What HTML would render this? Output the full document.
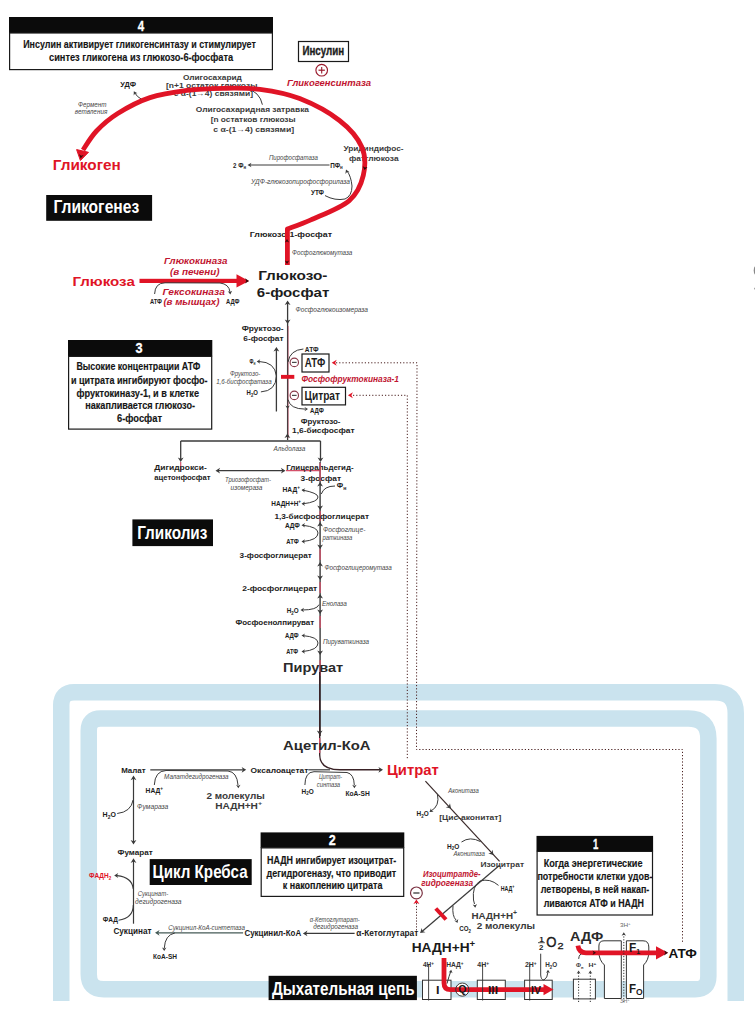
<!DOCTYPE html>
<html><head><meta charset="utf-8"><title>Glycogenesis, glycolysis, Krebs</title>
<style>html,body{margin:0;padding:0;background:#fff;}svg{display:block;}
text{font-family:"Liberation Sans",sans-serif;}</style></head>
<body>
<svg width="755" height="1023" viewBox="0 0 755 1023">
<rect width="755" height="1023" fill="#ffffff"/>
<path d="M61.25,1001 L61.25,705.25 Q61.25,692.25 74.25,692.25 L714.75,692.25 Q735.75,692.25 735.75,713.25 L735.75,1001" stroke="#cae3ee" stroke-width="16.5" fill="none"/>
<path d="M100.75,718.55 L688.35,718.55 Q708.35,718.55 708.35,738.55 L708.35,976.25 Q708.35,989.25 695.35,989.25 L103.75,989.25 Q88.75,989.25 88.75,974.25 L88.75,730.55 Q88.75,718.55 100.75,718.55 Z" stroke="#cae3ee" stroke-width="16.5" fill="none"/>
<ellipse cx="756" cy="270.5" rx="2.3" ry="4.6" fill="#888"/>
<ellipse cx="756" cy="288.6" rx="1.8" ry="1.3" fill="#888"/>
<rect x="9" y="17" width="264" height="16" fill="#0b0b0b"/>
<rect x="9.6" y="33" width="262.8" height="36.6" fill="#fff" stroke="#1a1a1a" stroke-width="1.2"/>
<text x="137.8" y="31.0" textLength="6.4" lengthAdjust="spacingAndGlyphs" font-family="Liberation Sans" font-size="15.5" font-weight="bold" font-style="normal" fill="#fff" stroke="#fff" stroke-width="0.3">4</text>
<text x="23.2" y="48.2" textLength="232.6" lengthAdjust="spacingAndGlyphs" font-family="Liberation Sans" font-size="11.2" font-weight="bold" font-style="normal" fill="#151515" stroke="#151515" stroke-width="0.15">Инсулин активирует гликогенсинтазу и стимулирует</text>
<text x="49.0" y="61.2" textLength="184.2" lengthAdjust="spacingAndGlyphs" font-family="Liberation Sans" font-size="11.2" font-weight="bold" font-style="normal" fill="#151515" stroke="#151515" stroke-width="0.15">синтез гликогена из глюкозо-6-фосфата</text>
<rect x="298.5" y="41.5" width="50" height="20" fill="#fff" stroke="#1a1a1a" stroke-width="1.2"/>
<text x="302.4" y="55.0" textLength="41.8" lengthAdjust="spacingAndGlyphs" font-family="Liberation Sans" font-size="12" font-weight="bold" font-style="normal" fill="#1c1c1c" stroke="#1c1c1c" stroke-width="0.35">Инсулин</text>
<circle cx="321.7" cy="70.2" r="5.8" fill="#fff" stroke="#9a1a2c" stroke-width="1.15"/>
<line x1="318.51" y1="70.2" x2="324.89" y2="70.2" stroke="#9a1a2c" stroke-width="1.2"/>
<line x1="321.7" y1="67.01" x2="321.7" y2="73.39" stroke="#9a1a2c" stroke-width="1.1"/>
<text x="287.0" y="86.2" textLength="84.0" lengthAdjust="spacingAndGlyphs" font-family="Liberation Sans" font-size="9.6" font-weight="bold" font-style="italic" fill="#bf1531" >Гликогенсинтаза</text>
<text x="120.3" y="87.4" textLength="15.7" lengthAdjust="spacingAndGlyphs" font-family="Liberation Sans" font-size="6.7" font-weight="bold" font-style="normal" fill="#1c1c1c" >УДФ</text>
<path d="M141.6,99.3 Q137,97 134.5,92.5" stroke="#3a3a3a" stroke-width="1" fill="none" />
<path d="M133.80,91.30 L137.49,93.17 L135.06,93.40 L133.71,95.43 Z" fill="#3a3a3a"/>
<text x="78.0" y="106.7" textLength="28.4" lengthAdjust="spacingAndGlyphs" font-family="Liberation Sans" font-size="6.6" font-weight="normal" font-style="italic" fill="#474747" >Фермент</text>
<text x="74.8" y="113.8" textLength="32.5" lengthAdjust="spacingAndGlyphs" font-family="Liberation Sans" font-size="6.6" font-weight="normal" font-style="italic" fill="#474747" >ветвления</text>
<text x="182.9" y="79.8" textLength="59.0" lengthAdjust="spacingAndGlyphs" font-family="Liberation Sans" font-size="7.9" font-weight="bold" font-style="normal" fill="#3a3a3a" >Олигосахарид</text>
<text x="166.0" y="87.5" textLength="91.4" lengthAdjust="spacingAndGlyphs" font-family="Liberation Sans" font-size="7.9" font-weight="bold" font-style="normal" fill="#3a3a3a" >[n+1 остаток глюкозы</text>
<text x="173.7" y="96.0" textLength="79.3" lengthAdjust="spacingAndGlyphs" font-family="Liberation Sans" font-size="7.9" font-weight="bold" font-style="normal" fill="#3a3a3a" >с α-(1→4) связями]</text>
<text x="195.8" y="112.1" textLength="113.2" lengthAdjust="spacingAndGlyphs" font-family="Liberation Sans" font-size="7.9" font-weight="bold" font-style="normal" fill="#3a3a3a" >Олигосахаридная затравка</text>
<text x="210.7" y="122.0" textLength="84.9" lengthAdjust="spacingAndGlyphs" font-family="Liberation Sans" font-size="7.9" font-weight="bold" font-style="normal" fill="#3a3a3a" >[n остатков глюкозы</text>
<text x="213.3" y="131.9" textLength="80.9" lengthAdjust="spacingAndGlyphs" font-family="Liberation Sans" font-size="7.9" font-weight="bold" font-style="normal" fill="#3a3a3a" >с α-(1→4) связями]</text>
<path d="M262.4,104.7 Q260,92 246,88" stroke="#3a3a3a" stroke-width="1" fill="none" />
<text x="343.4" y="151.2" textLength="60.1" lengthAdjust="spacingAndGlyphs" font-family="Liberation Sans" font-size="8.0" font-weight="bold" font-style="normal" fill="#3a3a3a" >Уридиндифос-</text>
<text x="348.9" y="160.7" textLength="49.7" lengthAdjust="spacingAndGlyphs" font-family="Liberation Sans" font-size="8.0" font-weight="bold" font-style="normal" fill="#3a3a3a" >фатглюкоза</text>
<text x="268.9" y="160.3" textLength="48.9" lengthAdjust="spacingAndGlyphs" font-family="Liberation Sans" font-size="6.6" font-weight="normal" font-style="italic" fill="#474747" >Пирофосфатаза</text>
<line x1="329.5" y1="165" x2="250" y2="165" stroke="#3a3a3a" stroke-width="1" />
<path d="M247.50,165.00 L251.50,162.70 L250.30,165.00 L251.50,167.30 Z" fill="#3a3a3a"/>
<text x="233.0" y="167.9" textLength="13.0" lengthAdjust="spacingAndGlyphs" font-family="Liberation Sans" font-size="6.7" font-weight="bold" font-style="normal" fill="#1c1c1c" >2 Ф<tspan font-size="70%" dy="1.5">н</tspan></text>
<text x="330.2" y="167.9" textLength="12.6" lengthAdjust="spacingAndGlyphs" font-family="Liberation Sans" font-size="6.7" font-weight="bold" font-style="normal" fill="#1c1c1c" >ПФ<tspan font-size="70%" dy="1.5">н</tspan></text>
<text x="251.0" y="184.4" textLength="99.0" lengthAdjust="spacingAndGlyphs" font-family="Liberation Sans" font-size="6.6" font-weight="normal" font-style="italic" fill="#474747" >УДФ-глюкозопирофосфорилаза</text>
<text x="311.0" y="195.2" textLength="13.0" lengthAdjust="spacingAndGlyphs" font-family="Liberation Sans" font-size="6.7" font-weight="bold" font-style="normal" fill="#1c1c1c" >УТФ</text>
<path d="M325,195.6 Q335,201 345,199 Q352,196 352,186 Q351,176 347,171" stroke="#3a3a3a" stroke-width="1" fill="none" />
<path d="M346.00,169.50 L349.62,172.36 L347.04,172.10 L345.35,174.07 Z" fill="#3a3a3a"/>
<text x="249.8" y="236.5" textLength="82.2" lengthAdjust="spacingAndGlyphs" font-family="Liberation Sans" font-size="8.0" font-weight="bold" font-style="normal" fill="#1c1c1c" >Глюкозо-1-фосфат</text>
<text x="292.0" y="254.8" textLength="60.3" lengthAdjust="spacingAndGlyphs" font-family="Liberation Sans" font-size="6.6" font-weight="normal" font-style="italic" fill="#474747" >Фосфоглюкомутаза</text>
<path d="M287.4,265 L287.4,229  C291.3,227.5 300.6,224.6 310.9,219.9 C321.2,215.2 340.3,208.2 349,200.8 C357.7,193.4 361.2,184.4 363.3,175.4 C365.4,166.4 365.7,156.0 361.7,146.8 C357.7,137.7 349.8,128.5 339.5,120.5 C329.2,112.5 312.9,103.8 299.7,98.6 C286.4,93.4 272.8,91.1 260,89.4 C247.2,87.7 235.2,88.1 223,88.3 C210.8,88.5 199.2,88.9 187,90.4 C174.8,92.0 161.6,93.8 150,97.6 C138.4,101.4 126.6,107.9 117.7,113.5 C108.8,119.1 102.3,124.9 96.5,131 C90.7,137.1 85.2,146.8 83,150" stroke="#e01426" stroke-width="4.8" fill="none" stroke-linejoin="round"/>
<path d="M76.6,149.6 L88.5,152.3 L80.4,160.5 Z" fill="#e01426" stroke="#e01426" stroke-width="1" stroke-linejoin="round"/>
<path d="M80.60,158.50 L79.03,154.11 L81.15,155.75 L83.74,155.05 Z" fill="#3a0a0a"/>
<path d="M287.00,239.00 L289.20,242.50 L287.00,241.45 L284.80,242.50 Z" fill="#3a0a0a"/>
<path d="M287.00,264.00 L284.80,260.50 L287.00,261.55 L289.20,260.50 Z" fill="#3a0a0a"/>
<path d="M364.60,170.00 L362.75,166.18 L364.96,167.58 L367.49,166.89 Z" fill="#2a0505"/>
<rect x="46.2" y="195" width="105.89999999999999" height="25.80000000000001" fill="#0b0b0b"/>
<text x="53.4" y="213.4" textLength="85.8" lengthAdjust="spacingAndGlyphs" font-family="Liberation Sans" font-size="18.3" font-weight="bold" font-style="normal" fill="#ffffff" >Гликогенез</text>
<text x="52.8" y="170.3" textLength="68.0" lengthAdjust="spacingAndGlyphs" font-family="Liberation Sans" font-size="14" font-weight="bold" font-style="normal" fill="#e01426" >Гликоген</text>
<text x="72.5" y="285.6" textLength="62.3" lengthAdjust="spacingAndGlyphs" font-family="Liberation Sans" font-size="13.5" font-weight="bold" font-style="normal" fill="#e01426" >Глюкоза</text>
<rect x="139.5" y="278.8" width="99" height="4.2" fill="#e01426"/>
<path d="M236.5,274.3 L249,280.9 L236.5,287.5 Z" fill="#e01426"/>
<path d="M249.00,280.90 L245.00,283.50 L246.20,280.90 L245.00,278.30 Z" fill="#3a0a0a"/>
<text x="164.0" y="264.1" textLength="63.5" lengthAdjust="spacingAndGlyphs" font-family="Liberation Sans" font-size="8.7" font-weight="bold" font-style="italic" fill="#bf1531" >Глюкокиназа</text>
<text x="170.0" y="275.4" textLength="49.5" lengthAdjust="spacingAndGlyphs" font-family="Liberation Sans" font-size="8.7" font-weight="bold" font-style="italic" fill="#bf1531" >(в печени)</text>
<text x="162.6" y="294.5" textLength="62.2" lengthAdjust="spacingAndGlyphs" font-family="Liberation Sans" font-size="8.7" font-weight="bold" font-style="italic" fill="#bf1531" >Гексокиназа</text>
<text x="163.4" y="305.1" textLength="56.1" lengthAdjust="spacingAndGlyphs" font-family="Liberation Sans" font-size="8.7" font-weight="bold" font-style="italic" fill="#bf1531" >(в мышцах)</text>
<text x="149.9" y="304.1" textLength="12.0" lengthAdjust="spacingAndGlyphs" font-family="Liberation Sans" font-size="7" font-weight="bold" font-style="normal" fill="#1c1c1c" >АТФ</text>
<text x="226.0" y="304.1" textLength="13.4" lengthAdjust="spacingAndGlyphs" font-family="Liberation Sans" font-size="7" font-weight="bold" font-style="normal" fill="#1c1c1c" >АДФ</text>
<path d="M154.6,294 Q155,283 165,282.8 L220,283 Q229,284 230,292" stroke="#3a3a3a" stroke-width="1" fill="none" />
<path d="M230.30,294.50 L227.76,291.24 L230.06,292.06 L232.14,290.80 Z" fill="#3a3a3a"/>
<text x="258.2" y="280.4" textLength="69.2" lengthAdjust="spacingAndGlyphs" font-family="Liberation Sans" font-size="13.2" font-weight="bold" font-style="normal" fill="#1c1c1c" >Глюкозо-</text>
<text x="256.8" y="297.0" textLength="72.5" lengthAdjust="spacingAndGlyphs" font-family="Liberation Sans" font-size="13.2" font-weight="bold" font-style="normal" fill="#1c1c1c" >6-фосфат</text>
<text x="295.6" y="312.0" textLength="72.4" lengthAdjust="spacingAndGlyphs" font-family="Liberation Sans" font-size="6.6" font-weight="normal" font-style="italic" fill="#474747" >Фосфоглюкоизомераза</text>
<line x1="287.6" y1="302" x2="287.6" y2="440" stroke="#3a3a3a" stroke-width="1.3" />
<path d="M287.60,300.50 L290.50,305.10 L287.60,303.72 L284.70,305.10 Z" fill="#3a3a3a"/>
<path d="M287.60,324.00 L284.70,319.40 L287.60,320.78 L290.50,319.40 Z" fill="#3a3a3a"/>
<text x="241.7" y="331.1" textLength="41.9" lengthAdjust="spacingAndGlyphs" font-family="Liberation Sans" font-size="8.0" font-weight="bold" font-style="normal" fill="#1c1c1c" >Фруктозо-</text>
<text x="243.3" y="341.2" textLength="40.3" lengthAdjust="spacingAndGlyphs" font-family="Liberation Sans" font-size="8.0" font-weight="bold" font-style="normal" fill="#1c1c1c" >6-фосфат</text>
<line x1="288.3" y1="326" x2="288.3" y2="438" stroke="#c05068" stroke-width="0.6" />
<line x1="276.4" y1="350" x2="276.4" y2="411.5" stroke="#3a3a3a" stroke-width="1.3" />
<path d="M276.40,347.00 L279.30,351.60 L276.40,350.22 L273.50,351.60 Z" fill="#3a3a3a"/>
<text x="304.8" y="351.8" textLength="13.7" lengthAdjust="spacingAndGlyphs" font-family="Liberation Sans" font-size="6.7" font-weight="bold" font-style="normal" fill="#1c1c1c" >АТФ</text>
<path d="M303.4,349 Q290,350 288,362" stroke="#3a3a3a" stroke-width="1" fill="none" />
<path d="M288,399.6 Q290,409 305,409.1" stroke="#3a3a3a" stroke-width="1" fill="none" />
<path d="M308.00,409.10 L304.50,411.30 L305.55,409.10 L304.50,406.90 Z" fill="#3a3a3a"/>
<text x="310.0" y="412.9" textLength="13.8" lengthAdjust="spacingAndGlyphs" font-family="Liberation Sans" font-size="6.7" font-weight="bold" font-style="normal" fill="#1c1c1c" >АДФ</text>
<path d="M287.60,409.00 L285.40,405.50 L287.60,406.55 L289.80,405.50 Z" fill="#3a3a3a"/>
<rect x="281" y="374.9" width="13.3" height="3.9" fill="#e01426"/>
<circle cx="294.3" cy="362.4" r="4.2" fill="#fff" stroke="#8a3a4a" stroke-width="1.15"/>
<line x1="291.99" y1="362.4" x2="296.61" y2="362.4" stroke="#4a4a4a" stroke-width="1.2"/>
<circle cx="294.3" cy="395.4" r="4.2" fill="#fff" stroke="#8a3a4a" stroke-width="1.15"/>
<line x1="291.99" y1="395.4" x2="296.61" y2="395.4" stroke="#4a4a4a" stroke-width="1.2"/>
<rect x="302" y="354" width="27" height="18" fill="#fff" stroke="#1a1a1a" stroke-width="1.2"/>
<text x="304.8" y="367.4" textLength="20.4" lengthAdjust="spacingAndGlyphs" font-family="Liberation Sans" font-size="12.3" font-weight="bold" font-style="normal" fill="#1c1c1c" >АТФ</text>
<rect x="302" y="387.3" width="43.5" height="17.6" fill="#fff" stroke="#1a1a1a" stroke-width="1.2"/>
<text x="304.5" y="400.3" textLength="35.5" lengthAdjust="spacingAndGlyphs" font-family="Liberation Sans" font-size="12.3" font-weight="bold" font-style="normal" fill="#1c1c1c" >Цитрат</text>
<text x="301.5" y="382.4" textLength="97.5" lengthAdjust="spacingAndGlyphs" font-family="Liberation Sans" font-size="8.7" font-weight="bold" font-style="italic" fill="#bf1531" >Фосфофруктокиназа-1</text>
<path d="M336,362.8 L417,362.8 L416.5,749.5 L682.5,749.5 L682.5,942.5" stroke="#4a2020" stroke-width="1" stroke-dasharray="1.2,2" fill="none"/>
<path d="M353,395.3 L407.3,395.3 L407.3,760" stroke="#4a2020" stroke-width="1" stroke-dasharray="1.2,2" fill="none"/>
<path d="M331.70,362.80 L336.70,359.80 L335.20,362.80 L336.70,365.80 Z" fill="#e01426"/>
<path d="M347.90,395.30 L352.90,392.30 L351.40,395.30 L352.90,398.30 Z" fill="#e01426"/>
<text x="249.6" y="363.9" textLength="5.9" lengthAdjust="spacingAndGlyphs" font-family="Liberation Sans" font-size="6.7" font-weight="bold" font-style="normal" fill="#1c1c1c" >Ф<tspan font-size="70%" dy="1.5">н</tspan></text>
<path d="M260.9,391.9 Q276,391 276.4,376 Q275,362 259,361.5" stroke="#3a3a3a" stroke-width="1" fill="none" />
<path d="M256.70,361.50 L260.20,359.30 L259.15,361.50 L260.20,363.70 Z" fill="#3a3a3a"/>
<text x="229.9" y="375.8" textLength="30.4" lengthAdjust="spacingAndGlyphs" font-family="Liberation Sans" font-size="6.6" font-weight="normal" font-style="italic" fill="#474747" >Фруктозо-</text>
<text x="216.2" y="383.5" textLength="55.4" lengthAdjust="spacingAndGlyphs" font-family="Liberation Sans" font-size="6.6" font-weight="normal" font-style="italic" fill="#474747" >1,6-бисфосфатаза</text>
<text x="246.6" y="395.0" textLength="11.3" lengthAdjust="spacingAndGlyphs" font-family="Liberation Sans" font-size="6.7" font-weight="bold" font-style="normal" fill="#1c1c1c" >Н<tspan font-size="70%" dy="1.5">2</tspan><tspan dy="-1.5">О</tspan></text>
<rect x="68" y="340" width="144.3" height="16.399999999999977" fill="#0b0b0b"/>
<rect x="68.6" y="356.4" width="143.10000000000002" height="72.70000000000002" fill="#fff" stroke="#1a1a1a" stroke-width="1.2"/>
<text x="135.5" y="353.2" textLength="7.1" lengthAdjust="spacingAndGlyphs" font-family="Liberation Sans" font-size="15" font-weight="bold" font-style="normal" fill="#fff" stroke="#fff" stroke-width="0.3">3</text>
<text x="76.4" y="370.2" textLength="124.0" lengthAdjust="spacingAndGlyphs" font-family="Liberation Sans" font-size="10.6" font-weight="bold" font-style="normal" fill="#151515" stroke="#151515" stroke-width="0.15">Высокие концентрации АТФ</text>
<text x="71.0" y="383.6" textLength="136.5" lengthAdjust="spacingAndGlyphs" font-family="Liberation Sans" font-size="10.6" font-weight="bold" font-style="normal" fill="#151515" stroke="#151515" stroke-width="0.15">и цитрата ингибируют фосфо-</text>
<text x="76.4" y="396.6" textLength="122.6" lengthAdjust="spacingAndGlyphs" font-family="Liberation Sans" font-size="10.6" font-weight="bold" font-style="normal" fill="#151515" stroke="#151515" stroke-width="0.15">фруктокиназу-1, и в клетке</text>
<text x="85.2" y="409.4" textLength="109.8" lengthAdjust="spacingAndGlyphs" font-family="Liberation Sans" font-size="10.6" font-weight="bold" font-style="normal" fill="#151515" stroke="#151515" stroke-width="0.15">накапливается глюкозо-</text>
<text x="117.0" y="422.2" textLength="45.0" lengthAdjust="spacingAndGlyphs" font-family="Liberation Sans" font-size="10.6" font-weight="bold" font-style="normal" fill="#151515" stroke="#151515" stroke-width="0.15">6-фосфат</text>
<text x="300.8" y="423.9" textLength="39.7" lengthAdjust="spacingAndGlyphs" font-family="Liberation Sans" font-size="8.0" font-weight="bold" font-style="normal" fill="#1c1c1c" >Фруктозо-</text>
<text x="292.0" y="433.3" textLength="62.6" lengthAdjust="spacingAndGlyphs" font-family="Liberation Sans" font-size="8.0" font-weight="bold" font-style="normal" fill="#1c1c1c" >1,6-бисфосфат</text>
<path d="M287.40,433.50 L290.30,438.10 L287.40,436.72 L284.50,438.10 Z" fill="#3a3a3a"/>
<line x1="180.7" y1="441" x2="320.5" y2="441" stroke="#3a3a3a" stroke-width="1.3" />
<line x1="180.7" y1="441" x2="180.7" y2="460" stroke="#3a3a3a" stroke-width="1.3" />
<line x1="320.5" y1="441" x2="320.5" y2="460" stroke="#3a3a3a" stroke-width="1.3" />
<line x1="180.7" y1="462" x2="180.7" y2="470.6" stroke="#d4506a" stroke-width="1.2" />
<line x1="286" y1="470.6" x2="320.5" y2="470.6" stroke="#d4506a" stroke-width="1.1" />
<path d="M180.70,462.00 L177.80,457.40 L180.70,458.78 L183.60,457.40 Z" fill="#3a3a3a"/>
<path d="M320.50,462.00 L317.60,457.40 L320.50,458.78 L323.40,457.40 Z" fill="#3a3a3a"/>
<text x="273.5" y="450.8" textLength="31.8" lengthAdjust="spacingAndGlyphs" font-family="Liberation Sans" font-size="6.6" font-weight="normal" font-style="italic" fill="#474747" >Альдолаза</text>
<text x="154.3" y="470.4" textLength="52.5" lengthAdjust="spacingAndGlyphs" font-family="Liberation Sans" font-size="8.0" font-weight="bold" font-style="normal" fill="#1c1c1c" >Дигидрокси-</text>
<text x="154.3" y="479.9" textLength="56.3" lengthAdjust="spacingAndGlyphs" font-family="Liberation Sans" font-size="8.0" font-weight="bold" font-style="normal" fill="#1c1c1c" >ацетонфосфат</text>
<text x="286.2" y="470.4" textLength="67.4" lengthAdjust="spacingAndGlyphs" font-family="Liberation Sans" font-size="8.0" font-weight="bold" font-style="normal" fill="#1c1c1c" >Глицеральдегид-</text>
<text x="300.5" y="480.6" textLength="40.5" lengthAdjust="spacingAndGlyphs" font-family="Liberation Sans" font-size="8.0" font-weight="bold" font-style="normal" fill="#1c1c1c" >3-фосфат</text>
<line x1="218" y1="470.7" x2="283" y2="470.7" stroke="#3a3a3a" stroke-width="1.3" />
<path d="M215.50,470.70 L220.10,467.80 L218.72,470.70 L220.10,473.60 Z" fill="#3a3a3a"/>
<path d="M285.50,470.70 L280.90,473.60 L282.28,470.70 L280.90,467.80 Z" fill="#3a3a3a"/>
<text x="225.0" y="482.4" textLength="46.0" lengthAdjust="spacingAndGlyphs" font-family="Liberation Sans" font-size="6.6" font-weight="normal" font-style="italic" fill="#474747" >Триозофосфат-</text>
<text x="230.6" y="490.3" textLength="31.8" lengthAdjust="spacingAndGlyphs" font-family="Liberation Sans" font-size="6.6" font-weight="normal" font-style="italic" fill="#474747" >изомераза</text>
<line x1="320.1" y1="462" x2="320.1" y2="736" stroke="#3a3a3a" stroke-width="1.4" />
<line x1="320.1" y1="463" x2="320.1" y2="481" stroke="#d4506a" stroke-width="1.3" />
<line x1="320.1" y1="511" x2="320.1" y2="521" stroke="#d4506a" stroke-width="1.3" />
<line x1="320.1" y1="549" x2="320.1" y2="560" stroke="#d4506a" stroke-width="1.3" />
<line x1="320.1" y1="582" x2="320.1" y2="593" stroke="#d4506a" stroke-width="1.3" />
<line x1="320.1" y1="616" x2="320.1" y2="628" stroke="#d4506a" stroke-width="1.3" />
<line x1="320.1" y1="660" x2="320.1" y2="676" stroke="#d4506a" stroke-width="1.3" />
<path d="M320.10,482.00 L323.00,486.60 L320.10,485.22 L317.20,486.60 Z" fill="#3a3a3a"/>
<path d="M320.10,510.00 L317.20,505.40 L320.10,506.78 L323.00,505.40 Z" fill="#3a3a3a"/>
<path d="M320.10,522.00 L323.00,526.60 L320.10,525.22 L317.20,526.60 Z" fill="#3a3a3a"/>
<path d="M320.10,549.00 L317.20,544.40 L320.10,545.78 L323.00,544.40 Z" fill="#3a3a3a"/>
<path d="M320.10,562.00 L323.00,566.60 L320.10,565.22 L317.20,566.60 Z" fill="#3a3a3a"/>
<path d="M320.10,580.00 L317.20,575.40 L320.10,576.78 L323.00,575.40 Z" fill="#3a3a3a"/>
<path d="M320.10,594.00 L323.00,598.60 L320.10,597.22 L317.20,598.60 Z" fill="#3a3a3a"/>
<path d="M320.10,614.00 L317.20,609.40 L320.10,610.78 L323.00,609.40 Z" fill="#3a3a3a"/>
<path d="M320.10,655.00 L317.20,650.40 L320.10,651.78 L323.00,650.40 Z" fill="#3a3a3a"/>
<text x="282.5" y="492.4" textLength="17.4" lengthAdjust="spacingAndGlyphs" font-family="Liberation Sans" font-size="6.7" font-weight="bold" font-style="normal" fill="#1c1c1c" >НАД<tspan font-size="70%" dy="-3">+</tspan></text>
<path d="M302.3,490 Q318,493 318,497 Q318,502 303,503.8" stroke="#3a3a3a" stroke-width="1" fill="none" />
<path d="M301.50,503.80 L305.00,501.60 L303.95,503.80 L305.00,506.00 Z" fill="#3a3a3a"/>
<path d="M301.50,490.00 L305.20,488.16 L303.94,490.24 L304.76,492.54 Z" fill="#3a3a3a"/>
<text x="271.3" y="506.2" textLength="29.7" lengthAdjust="spacingAndGlyphs" font-family="Liberation Sans" font-size="6.7" font-weight="bold" font-style="normal" fill="#1c1c1c" >НАДН+Н<tspan font-size="70%" dy="-3">+</tspan></text>
<text x="336.8" y="488.4" textLength="9.6" lengthAdjust="spacingAndGlyphs" font-family="Liberation Sans" font-size="6.7" font-weight="bold" font-style="normal" fill="#1c1c1c" >Ф<tspan font-size="70%" dy="1.5">н</tspan></text>
<path d="M335,486 Q324,486 321.3,494" stroke="#3a3a3a" stroke-width="1" fill="none" />
<text x="274.4" y="519.1" textLength="94.6" lengthAdjust="spacingAndGlyphs" font-family="Liberation Sans" font-size="8.0" font-weight="bold" font-style="normal" fill="#1c1c1c" >1,3-бисфосфоглицерат</text>
<text x="284.9" y="527.7" textLength="15.0" lengthAdjust="spacingAndGlyphs" font-family="Liberation Sans" font-size="6.7" font-weight="bold" font-style="normal" fill="#1c1c1c" >АДФ</text>
<text x="286.3" y="543.9" textLength="12.4" lengthAdjust="spacingAndGlyphs" font-family="Liberation Sans" font-size="6.7" font-weight="bold" font-style="normal" fill="#1c1c1c" >АТФ</text>
<path d="M303,525.3 Q318,527 318,533 Q318,540 303,541.5" stroke="#3a3a3a" stroke-width="1" fill="none" />
<path d="M301.50,525.30 L305.00,523.10 L303.95,525.30 L305.00,527.50 Z" fill="#3a3a3a"/>
<path d="M301.50,541.50 L305.00,539.30 L303.95,541.50 L305.00,543.70 Z" fill="#3a3a3a"/>
<text x="323.0" y="532.0" textLength="42.4" lengthAdjust="spacingAndGlyphs" font-family="Liberation Sans" font-size="6.6" font-weight="normal" font-style="italic" fill="#474747" >Фосфоглице-</text>
<text x="322.5" y="539.6" textLength="29.8" lengthAdjust="spacingAndGlyphs" font-family="Liberation Sans" font-size="6.6" font-weight="normal" font-style="italic" fill="#474747" >раткиназа</text>
<text x="239.6" y="558.0" textLength="72.2" lengthAdjust="spacingAndGlyphs" font-family="Liberation Sans" font-size="8.0" font-weight="bold" font-style="normal" fill="#1c1c1c" >3-фосфоглицерат</text>
<text x="324.4" y="570.1" textLength="67.3" lengthAdjust="spacingAndGlyphs" font-family="Liberation Sans" font-size="6.6" font-weight="normal" font-style="italic" fill="#474747" >Фосфоглицеромутаза</text>
<text x="242.2" y="590.8" textLength="75.1" lengthAdjust="spacingAndGlyphs" font-family="Liberation Sans" font-size="8.0" font-weight="bold" font-style="normal" fill="#1c1c1c" >2-фосфоглицерат</text>
<text x="322.0" y="605.8" textLength="24.8" lengthAdjust="spacingAndGlyphs" font-family="Liberation Sans" font-size="6.6" font-weight="normal" font-style="italic" fill="#474747" >Енолаза</text>
<text x="286.8" y="613.4" textLength="11.9" lengthAdjust="spacingAndGlyphs" font-family="Liberation Sans" font-size="6.7" font-weight="bold" font-style="normal" fill="#1c1c1c" >Н<tspan font-size="70%" dy="1.5">2</tspan><tspan dy="-1.5">О</tspan></text>
<path d="M319,604.6 Q317,610 302,610" stroke="#3a3a3a" stroke-width="1" fill="none" />
<path d="M300.50,610.00 L304.00,607.80 L302.95,610.00 L304.00,612.20 Z" fill="#3a3a3a"/>
<text x="235.5" y="625.4" textLength="78.7" lengthAdjust="spacingAndGlyphs" font-family="Liberation Sans" font-size="8.0" font-weight="bold" font-style="normal" fill="#1c1c1c" >Фосфоенолпируват</text>
<text x="284.9" y="638.0" textLength="13.8" lengthAdjust="spacingAndGlyphs" font-family="Liberation Sans" font-size="6.7" font-weight="bold" font-style="normal" fill="#1c1c1c" >АДФ</text>
<text x="286.3" y="653.9" textLength="11.9" lengthAdjust="spacingAndGlyphs" font-family="Liberation Sans" font-size="6.7" font-weight="bold" font-style="normal" fill="#1c1c1c" >АТФ</text>
<path d="M303,635.6 Q318,637 318,643 Q318,650 303,651.5" stroke="#3a3a3a" stroke-width="1" fill="none" />
<path d="M301.50,635.60 L305.00,633.40 L303.95,635.60 L305.00,637.80 Z" fill="#3a3a3a"/>
<path d="M301.50,651.50 L305.00,649.30 L303.95,651.50 L305.00,653.70 Z" fill="#3a3a3a"/>
<text x="323.0" y="643.9" textLength="46.0" lengthAdjust="spacingAndGlyphs" font-family="Liberation Sans" font-size="6.6" font-weight="normal" font-style="italic" fill="#474747" >Пируваткиназа</text>
<text x="283.1" y="672.3" textLength="60.1" lengthAdjust="spacingAndGlyphs" font-family="Liberation Sans" font-size="13.5" font-weight="bold" font-style="normal" fill="#2a2a2a" >Пируват</text>
<rect x="132.4" y="519.4" width="80.6" height="26.700000000000045" fill="#0b0b0b"/>
<text x="137.2" y="538.6" textLength="70.2" lengthAdjust="spacingAndGlyphs" font-family="Liberation Sans" font-size="19" font-weight="bold" font-style="normal" fill="#ffffff" >Гликолиз</text>
<line x1="319.7" y1="672" x2="319.7" y2="733" stroke="#3a2226" stroke-width="1.4" />
<path d="M319.70,735.00 L316.80,730.40 L319.70,731.78 L322.60,730.40 Z" fill="#3a3a3a"/>
<path d="M319.7,733 L319.7,755 Q320,769.8 340,769.8 L381,769.8" stroke="#3a2226" stroke-width="1.4" fill="none" />
<line x1="319.7" y1="738" x2="319.7" y2="753" stroke="#d4506a" stroke-width="1.3" />
<path d="M383.00,769.80 L378.40,772.70 L379.78,769.80 L378.40,766.90 Z" fill="#3a3a3a"/>
<text x="283.1" y="750.2" textLength="87.4" lengthAdjust="spacingAndGlyphs" font-family="Liberation Sans" font-size="13.2" font-weight="bold" font-style="normal" fill="#2a2a2a" >Ацетил-КоА</text>
<text x="387.0" y="774.5" textLength="51.7" lengthAdjust="spacingAndGlyphs" font-family="Liberation Sans" font-size="14" font-weight="bold" font-style="normal" fill="#e01426" >Цитрат</text>
<text x="250.6" y="772.7" textLength="57.7" lengthAdjust="spacingAndGlyphs" font-family="Liberation Sans" font-size="8.0" font-weight="bold" font-style="normal" fill="#1c1c1c" >Оксалоацетат</text>
<line x1="308.3" y1="769.8" x2="330" y2="769.8" stroke="#3a3a3a" stroke-width="1.2" />
<text x="319.0" y="778.6" textLength="23.0" lengthAdjust="spacingAndGlyphs" font-family="Liberation Sans" font-size="6.6" font-weight="normal" font-style="italic" fill="#474747" >Цитрат-</text>
<text x="316.8" y="786.5" textLength="23.3" lengthAdjust="spacingAndGlyphs" font-family="Liberation Sans" font-size="6.6" font-weight="normal" font-style="italic" fill="#474747" >синтаза</text>
<path d="M304.9,785 Q305,772 314,771.7 L347,772.5 Q354,774 354.3,785" stroke="#3a3a3a" stroke-width="1" fill="none" />
<path d="M354.40,788.30 L352.20,784.80 L354.40,785.85 L356.60,784.80 Z" fill="#3a3a3a"/>
<text x="301.5" y="793.9" textLength="12.1" lengthAdjust="spacingAndGlyphs" font-family="Liberation Sans" font-size="6.7" font-weight="bold" font-style="normal" fill="#1c1c1c" >Н<tspan font-size="70%" dy="1.5">2</tspan><tspan dy="-1.5">О</tspan></text>
<text x="345.4" y="796.0" textLength="24.4" lengthAdjust="spacingAndGlyphs" font-family="Liberation Sans" font-size="6.7" font-weight="bold" font-style="normal" fill="#1c1c1c" >КоА-SH</text>
<text x="121.2" y="772.7" textLength="24.4" lengthAdjust="spacingAndGlyphs" font-family="Liberation Sans" font-size="8.0" font-weight="bold" font-style="normal" fill="#1c1c1c" >Малат</text>
<line x1="150.3" y1="769.8" x2="243" y2="769.8" stroke="#3a3a3a" stroke-width="1.2" />
<path d="M246.20,769.80 L241.60,772.70 L242.98,769.80 L241.60,766.90 Z" fill="#3a3a3a"/>
<text x="164.1" y="778.6" textLength="64.4" lengthAdjust="spacingAndGlyphs" font-family="Liberation Sans" font-size="6.6" font-weight="normal" font-style="italic" fill="#474747" >Малатдегидрогеназа</text>
<path d="M154.3,785 Q155,771 166,770.5 L228,771 Q237,772 238,785" stroke="#3a3a3a" stroke-width="1" fill="none" />
<path d="M238.30,788.30 L236.10,784.80 L238.30,785.85 L240.50,784.80 Z" fill="#3a3a3a"/>
<text x="145.6" y="792.6" textLength="17.4" lengthAdjust="spacingAndGlyphs" font-family="Liberation Sans" font-size="6.7" font-weight="bold" font-style="normal" fill="#1c1c1c" >НАД<tspan font-size="70%" dy="-3">+</tspan></text>
<text x="206.5" y="798.7" textLength="58.3" lengthAdjust="spacingAndGlyphs" font-family="Liberation Sans" font-size="8.8" font-weight="bold" font-style="normal" fill="#3a3a3a" >2 молекулы</text>
<text x="215.2" y="809.0" textLength="46.9" lengthAdjust="spacingAndGlyphs" font-family="Liberation Sans" font-size="8.8" font-weight="bold" font-style="normal" fill="#3a3a3a" >НАДН+Н<tspan font-size="70%" dy="-4">+</tspan></text>
<text x="137.1" y="808.5" textLength="31.2" lengthAdjust="spacingAndGlyphs" font-family="Liberation Sans" font-size="6.6" font-weight="normal" font-style="italic" fill="#474747" >Фумараза</text>
<text x="102.6" y="817.2" textLength="13.3" lengthAdjust="spacingAndGlyphs" font-family="Liberation Sans" font-size="6.7" font-weight="bold" font-style="normal" fill="#1c1c1c" >Н<tspan font-size="70%" dy="1.5">2</tspan><tspan dy="-1.5">О</tspan></text>
<path d="M117.2,813.5 Q131,812 133.1,800" stroke="#3a3a3a" stroke-width="1" fill="none" />
<line x1="133.5" y1="778" x2="133.5" y2="842" stroke="#3a3a3a" stroke-width="1.2" />
<path d="M133.50,775.60 L136.40,780.20 L133.50,778.82 L130.60,780.20 Z" fill="#3a3a3a"/>
<path d="M133.50,844.50 L130.60,839.90 L133.50,841.28 L136.40,839.90 Z" fill="#3a3a3a"/>
<text x="117.5" y="855.3" textLength="35.1" lengthAdjust="spacingAndGlyphs" font-family="Liberation Sans" font-size="8.0" font-weight="bold" font-style="normal" fill="#1c1c1c" >Фумарат</text>
<line x1="133.5" y1="860" x2="133.5" y2="923.7" stroke="#3a3a3a" stroke-width="1.2" />
<path d="M133.50,858.30 L136.40,862.90 L133.50,861.52 L130.60,862.90 Z" fill="#3a3a3a"/>
<text x="89.0" y="878.3" textLength="22.2" lengthAdjust="spacingAndGlyphs" font-family="Liberation Sans" font-size="6.7" font-weight="bold" font-style="normal" fill="#e01426" >ФАДН<tspan font-size="70%" dy="1.5">2</tspan></text>
<path d="M133.3,889 Q132,877 117,875.6" stroke="#3a3a3a" stroke-width="1.1" fill="none" />
<path d="M114.20,875.60 L118.20,873.10 L117.00,875.60 L118.20,878.10 Z" fill="#3a3a3a"/>
<text x="137.7" y="895.6" textLength="30.5" lengthAdjust="spacingAndGlyphs" font-family="Liberation Sans" font-size="6.6" font-weight="normal" font-style="italic" fill="#474747" >Сукцинат-</text>
<text x="135.1" y="903.6" textLength="46.4" lengthAdjust="spacingAndGlyphs" font-family="Liberation Sans" font-size="6.6" font-weight="normal" font-style="italic" fill="#474747" >дегидрогеназа</text>
<text x="102.8" y="922.1" textLength="15.1" lengthAdjust="spacingAndGlyphs" font-family="Liberation Sans" font-size="6.7" font-weight="bold" font-style="normal" fill="#1c1c1c" >ФАД</text>
<path d="M118.5,920.3 Q133.3,918 133.3,905" stroke="#3a3a3a" stroke-width="1.1" fill="none" />
<text x="113.4" y="934.2" textLength="38.1" lengthAdjust="spacingAndGlyphs" font-family="Liberation Sans" font-size="9.2" font-weight="bold" font-style="normal" fill="#1a1a1a" >Сукцинат</text>
<line x1="157" y1="932.8" x2="243.1" y2="932.8" stroke="#445a56" stroke-width="1.2" />
<path d="M155.00,932.80 L159.60,929.90 L158.22,932.80 L159.60,935.70 Z" fill="#445a56"/>
<path d="M174.8,933 Q165,935 164.3,948" stroke="#3a3a3a" stroke-width="1" fill="none" />
<path d="M164.20,951.00 L162.00,947.50 L164.20,948.55 L166.40,947.50 Z" fill="#3a3a3a"/>
<text x="153.1" y="959.2" textLength="23.9" lengthAdjust="spacingAndGlyphs" font-family="Liberation Sans" font-size="6.7" font-weight="bold" font-style="normal" fill="#1c1c1c" >КоА-SH</text>
<text x="168.3" y="930.0" textLength="76.6" lengthAdjust="spacingAndGlyphs" font-family="Liberation Sans" font-size="6.6" font-weight="normal" font-style="italic" fill="#474747" >Сукцинил-КоА-синтетаза</text>
<text x="244.4" y="936.3" textLength="56.8" lengthAdjust="spacingAndGlyphs" font-family="Liberation Sans" font-size="9" font-weight="bold" font-style="normal" fill="#1a1a1a" >Сукцинил-КоА</text>
<line x1="305" y1="933.4" x2="354.6" y2="933.4" stroke="#3a3a3a" stroke-width="1.2" />
<path d="M302.90,933.40 L307.50,930.50 L306.12,933.40 L307.50,936.30 Z" fill="#3a3a3a"/>
<text x="309.8" y="922.4" textLength="49.9" lengthAdjust="spacingAndGlyphs" font-family="Liberation Sans" font-size="6.6" font-weight="normal" font-style="italic" fill="#474747" >α-Кетоглутарат-</text>
<text x="313.2" y="929.3" textLength="44.8" lengthAdjust="spacingAndGlyphs" font-family="Liberation Sans" font-size="6.6" font-weight="normal" font-style="italic" fill="#474747" >дегидрогеназа</text>
<text x="356.3" y="936.3" textLength="62.0" lengthAdjust="spacingAndGlyphs" font-family="Liberation Sans" font-size="9" font-weight="bold" font-style="normal" fill="#1a1a1a" >α-Кетоглутарат</text>
<rect x="149.7" y="859.1" width="102.0" height="25.899999999999977" fill="#0b0b0b"/>
<text x="152.6" y="877.8" textLength="95.0" lengthAdjust="spacingAndGlyphs" font-family="Liberation Sans" font-size="19" font-weight="bold" font-style="normal" fill="#ffffff" >Цикл Кребса</text>
<rect x="260.6" y="832.4" width="143.7" height="15.5" fill="#0b0b0b"/>
<rect x="261.20000000000005" y="847.9" width="142.5" height="48.50000000000002" fill="#fff" stroke="#1a1a1a" stroke-width="1.2"/>
<text x="328.8" y="845.1" textLength="7.0" lengthAdjust="spacingAndGlyphs" font-family="Liberation Sans" font-size="14.5" font-weight="bold" font-style="normal" fill="#fff" stroke="#fff" stroke-width="0.3">2</text>
<text x="267.0" y="864.2" textLength="129.2" lengthAdjust="spacingAndGlyphs" font-family="Liberation Sans" font-size="10.6" font-weight="bold" font-style="normal" fill="#151515" stroke="#151515" stroke-width="0.15">НАДН ингибирует изоцитрат-</text>
<text x="266.5" y="876.6" textLength="129.7" lengthAdjust="spacingAndGlyphs" font-family="Liberation Sans" font-size="10.6" font-weight="bold" font-style="normal" fill="#151515" stroke="#151515" stroke-width="0.15">дегидрогеназу, что приводит</text>
<text x="282.8" y="889.0" textLength="99.6" lengthAdjust="spacingAndGlyphs" font-family="Liberation Sans" font-size="10.6" font-weight="bold" font-style="normal" fill="#151515" stroke="#151515" stroke-width="0.15">к накоплению цитрата</text>
<line x1="425.4" y1="781.2" x2="499.6" y2="861.3" stroke="#3a2a2a" stroke-width="1.2" />
<path d="M451.00,808.60 L445.74,807.21 L448.81,806.24 L449.99,803.26 Z" fill="#3a3a3a"/>
<path d="M493.50,855.00 L488.24,853.61 L491.31,852.64 L492.49,849.66 Z" fill="#3a3a3a"/>
<text x="448.3" y="792.7" textLength="30.5" lengthAdjust="spacingAndGlyphs" font-family="Liberation Sans" font-size="6.6" font-weight="normal" font-style="italic" fill="#474747" >Аконитаза</text>
<text x="416.5" y="816.4" textLength="12.1" lengthAdjust="spacingAndGlyphs" font-family="Liberation Sans" font-size="6.7" font-weight="bold" font-style="normal" fill="#1c1c1c" >Н<tspan font-size="70%" dy="1.5">2</tspan><tspan dy="-1.5">О</tspan></text>
<path d="M437.4,794 Q440,806 431,811" stroke="#3a3a3a" stroke-width="1" fill="none" />
<path d="M429.50,812.00 L430.98,808.14 L431.46,810.53 L433.62,811.66 Z" fill="#3a3a3a"/>
<text x="439.2" y="819.7" textLength="62.1" lengthAdjust="spacingAndGlyphs" font-family="Liberation Sans" font-size="8.0" font-weight="bold" font-style="normal" fill="#3a3a3a" >[Цис-аконитат]</text>
<text x="447.0" y="848.9" textLength="12.3" lengthAdjust="spacingAndGlyphs" font-family="Liberation Sans" font-size="6.7" font-weight="bold" font-style="normal" fill="#1c1c1c" >Н<tspan font-size="70%" dy="1.5">2</tspan><tspan dy="-1.5">О</tspan></text>
<path d="M461.5,842 Q470,836 480.5,841.6" stroke="#3a3a3a" stroke-width="1" fill="none" />
<text x="453.4" y="856.1" textLength="31.4" lengthAdjust="spacingAndGlyphs" font-family="Liberation Sans" font-size="6.6" font-weight="normal" font-style="italic" fill="#474747" >Аконитаза</text>
<text x="480.5" y="866.7" textLength="43.5" lengthAdjust="spacingAndGlyphs" font-family="Liberation Sans" font-size="8.0" font-weight="bold" font-style="normal" fill="#3a3a3a" >Изоцитрат</text>
<line x1="499.6" y1="865.3" x2="422" y2="931.5" stroke="#3a3a3a" stroke-width="1.2" />
<path d="M420.10,933.10 L421.71,927.91 L422.55,931.01 L425.48,932.31 Z" fill="#3a3a3a"/>
<text x="422.9" y="877.4" textLength="57.6" lengthAdjust="spacingAndGlyphs" font-family="Liberation Sans" font-size="8.4" font-weight="bold" font-style="italic" fill="#bf1531" >Изоцитратде-</text>
<text x="421.2" y="886.3" textLength="51.9" lengthAdjust="spacingAndGlyphs" font-family="Liberation Sans" font-size="8.4" font-weight="bold" font-style="italic" fill="#bf1531" >гидрогеназа</text>
<text x="500.7" y="891.0" textLength="13.7" lengthAdjust="spacingAndGlyphs" font-family="Liberation Sans" font-size="6.7" font-weight="bold" font-style="normal" fill="#1c1c1c" >НАД<tspan font-size="70%" dy="-3">+</tspan></text>
<path d="M498.5,885.4 Q490,878 480,881 Q472,886 473.5,900 L474.5,904" stroke="#3a3a3a" stroke-width="1" fill="none" />
<path d="M475.20,907.70 L472.66,904.44 L474.96,905.26 L477.04,904.00 Z" fill="#3a3a3a"/>
<path d="M453,905.6 Q452,916 456,920" stroke="#3a3a3a" stroke-width="1" fill="none" />
<path d="M457.50,923.00 L454.16,920.57 L456.59,920.73 L458.24,918.93 Z" fill="#3a3a3a"/>
<text x="459.3" y="931.3" textLength="11.7" lengthAdjust="spacingAndGlyphs" font-family="Liberation Sans" font-size="6.7" font-weight="bold" font-style="normal" fill="#1c1c1c" >CO<tspan font-size="70%" dy="1.5">2</tspan></text>
<text x="471.5" y="919.4" textLength="45.5" lengthAdjust="spacingAndGlyphs" font-family="Liberation Sans" font-size="9.2" font-weight="bold" font-style="normal" fill="#3a3a3a" >НАДН+Н<tspan font-size="70%" dy="-4">+</tspan></text>
<text x="476.7" y="928.8" textLength="58.3" lengthAdjust="spacingAndGlyphs" font-family="Liberation Sans" font-size="9.2" font-weight="bold" font-style="normal" fill="#3a3a3a" >2 молекулы</text>
<line x1="435.8" y1="908.5" x2="446" y2="919.5" stroke="#e01426" stroke-width="4"/>
<circle cx="416.4" cy="892.9" r="5.9" fill="#fff" stroke="#7a3040" stroke-width="1.2"/>
<line x1="413.3" y1="893" x2="419.5" y2="893" stroke="#555" stroke-width="1.5"/>
<line x1="416.5" y1="903" x2="416.5" y2="936" stroke="#5a3a3a" stroke-width="1" stroke-dasharray="1.3,1.6"/>
<path d="M416.40,899.50 L419.40,904.00 L416.40,902.65 L413.40,904.00 Z" fill="#e01426"/>
<rect x="536.5" y="835.9" width="116.60000000000002" height="15.5" fill="#0b0b0b"/>
<rect x="537.1" y="851.4" width="115.40000000000002" height="63.600000000000044" fill="#fff" stroke="#1a1a1a" stroke-width="1.2"/>
<text x="593.1" y="849.2" textLength="5.3" lengthAdjust="spacingAndGlyphs" font-family="Liberation Sans" font-size="14.5" font-weight="bold" font-style="normal" fill="#fff" stroke="#fff" stroke-width="0.3">1</text>
<text x="543.7" y="867.3" textLength="98.8" lengthAdjust="spacingAndGlyphs" font-family="Liberation Sans" font-size="10.6" font-weight="bold" font-style="normal" fill="#151515" stroke="#151515" stroke-width="0.15">Когда энергетические</text>
<text x="537.4" y="880.1" textLength="115.0" lengthAdjust="spacingAndGlyphs" font-family="Liberation Sans" font-size="10.6" font-weight="bold" font-style="normal" fill="#151515" stroke="#151515" stroke-width="0.15">потребности клетки удов-</text>
<text x="540.8" y="893.4" textLength="108.5" lengthAdjust="spacingAndGlyphs" font-family="Liberation Sans" font-size="10.6" font-weight="bold" font-style="normal" fill="#151515" stroke="#151515" stroke-width="0.15">летворены, в ней накап-</text>
<text x="543.7" y="906.5" textLength="100.3" lengthAdjust="spacingAndGlyphs" font-family="Liberation Sans" font-size="10.6" font-weight="bold" font-style="normal" fill="#151515" stroke="#151515" stroke-width="0.15">ливаются АТФ и НАДН</text>
<rect x="268.6" y="975.8" width="148.29999999999995" height="24.300000000000068" fill="#0b0b0b"/>
<text x="271.9" y="995.3" textLength="142.6" lengthAdjust="spacingAndGlyphs" font-family="Liberation Sans" font-size="19" font-weight="bold" font-style="normal" fill="#ffffff" >Дыхательная цепь</text>
<text x="411.7" y="951.8" textLength="63.5" lengthAdjust="spacingAndGlyphs" font-family="Liberation Sans" font-size="13.5" font-weight="bold" font-style="normal" fill="#1a1a1a" >НАДН+Н<tspan font-size="70%" dy="-5">+</tspan></text>
<rect x="422.5" y="980.2" width="28.5" height="19.3" fill="#fff" stroke="#333" stroke-width="1"/>
<rect x="477.3" y="980.2" width="28.0" height="19.3" fill="#fff" stroke="#333" stroke-width="1"/>
<rect x="524.6" y="980.2" width="27.600000000000023" height="19.3" fill="#fff" stroke="#333" stroke-width="1"/>
<circle cx="462.3" cy="989.6" r="7" fill="#fff"/>
<text x="422.9" y="966.9" textLength="11.0" lengthAdjust="spacingAndGlyphs" font-family="Liberation Sans" font-size="6.6" font-weight="bold" font-style="normal" fill="#333" >4Н<tspan font-size="70%" dy="-2">+</tspan></text>
<text x="477.3" y="966.9" textLength="11.7" lengthAdjust="spacingAndGlyphs" font-family="Liberation Sans" font-size="6.6" font-weight="bold" font-style="normal" fill="#333" >4Н<tspan font-size="70%" dy="-2">+</tspan></text>
<text x="525.0" y="966.9" textLength="11.7" lengthAdjust="spacingAndGlyphs" font-family="Liberation Sans" font-size="6.6" font-weight="bold" font-style="normal" fill="#333" >2Н<tspan font-size="70%" dy="-2">+</tspan></text>
<text x="446.2" y="966.9" textLength="17.4" lengthAdjust="spacingAndGlyphs" font-family="Liberation Sans" font-size="6.6" font-weight="bold" font-style="normal" fill="#333" >НАД<tspan font-size="70%" dy="-2">+</tspan></text>
<text x="545.2" y="967.4" textLength="12.0" lengthAdjust="spacingAndGlyphs" font-family="Liberation Sans" font-size="6.6" font-weight="bold" font-style="normal" fill="#333" >Н<tspan font-size="70%" dy="1.5">2</tspan><tspan dy="-1.5">О</tspan></text>
<path d="M447,983.6 Q449,976 450.9,971" stroke="#3a3a3a" stroke-width="1" fill="none" />
<path d="M451.20,969.80 L452.53,973.33 L450.76,972.00 L448.61,972.55 Z" fill="#3a3a3a"/>
<path d="M540.7,953.7 L540.7,975 Q541,980 544,980 Q547.5,978 548,972" stroke="#3a3a3a" stroke-width="1" fill="none" />
<path d="M548.00,969.80 L550.00,973.00 L548.00,972.04 L546.00,973.00 Z" fill="#3a3a3a"/>
<path d="M444,958 L444,983 Q444,989.6 450.5,989.6 L545,989.6" stroke="#e01426" stroke-width="4.8" fill="none" />
<path d="M543.5,983.9 L553.5,989.6 L543.5,995.3 Z" fill="#e01426"/>
<line x1="428.6" y1="964.5" x2="428.6" y2="1000.5" stroke="#333" stroke-width="0.9" />
<text x="436.0" y="993.5" textLength="3.5" lengthAdjust="spacingAndGlyphs" font-family="Liberation Sans" font-size="10.8" font-weight="bold" font-style="normal" fill="#1a1a1a" >I</text>
<line x1="482.6" y1="964.5" x2="482.6" y2="1000.5" stroke="#333" stroke-width="0.9" />
<text x="488.0" y="993.5" textLength="10.0" lengthAdjust="spacingAndGlyphs" font-family="Liberation Sans" font-size="10.8" font-weight="bold" font-style="normal" fill="#1a1a1a" >III</text>
<line x1="529.7" y1="964.5" x2="529.7" y2="1000.5" stroke="#333" stroke-width="0.9" />
<text x="531.0" y="993.5" textLength="10.0" lengthAdjust="spacingAndGlyphs" font-family="Liberation Sans" font-size="10.8" font-weight="bold" font-style="normal" fill="#1a1a1a" >IV</text>
<circle cx="462.3" cy="989.6" r="6.6" fill="none" stroke="#333" stroke-width="1"/>
<text x="458.3" y="993.4" textLength="8.2" lengthAdjust="spacingAndGlyphs" font-family="Liberation Sans" font-size="10.5" font-weight="bold" font-style="normal" fill="#1a1a1a" >Q</text>
<text x="539.2" y="942.0" textLength="4.6" lengthAdjust="spacingAndGlyphs" font-family="Liberation Sans" font-size="7.2" font-weight="bold" font-style="normal" fill="#222" >1</text>
<line x1="538" y1="942.7" x2="544.8" y2="942.7" stroke="#222" stroke-width="0.8" />
<text x="539.0" y="949.6" textLength="4.4" lengthAdjust="spacingAndGlyphs" font-family="Liberation Sans" font-size="7.2" font-weight="bold" font-style="normal" fill="#222" >2</text>
<text x="546.3" y="946.6" textLength="10.2" lengthAdjust="spacingAndGlyphs" font-family="Liberation Sans" font-size="14" font-weight="normal" font-style="normal" fill="#1a1a1a" stroke="#1a1a1a" stroke-width="0.4">О</text>
<text x="557.5" y="948.8" textLength="6.1" lengthAdjust="spacingAndGlyphs" font-family="Liberation Sans" font-size="9.8" font-weight="normal" font-style="normal" fill="#1a1a1a" stroke="#1a1a1a" stroke-width="0.3">2</text>
<text x="570.0" y="940.8" textLength="33.2" lengthAdjust="spacingAndGlyphs" font-family="Liberation Sans" font-size="12.5" font-weight="bold" font-style="normal" fill="#2a2a2a" >АДФ</text>
<rect x="573.4" y="979.2" width="22" height="19.7" fill="#fff" stroke="#333" stroke-width="1"/>
<path d="M578.6,1002 L578.6,972 M590.3,1002 L590.3,972" stroke="#333" stroke-width="1" stroke-dasharray="1.2,1.6"/>
<path d="M578.60,970.60 L580.60,973.80 L578.60,972.84 L576.60,973.80 Z" fill="#3a3a3a"/>
<path d="M590.30,970.60 L592.30,973.80 L590.30,972.84 L588.30,973.80 Z" fill="#3a3a3a"/>
<text x="576.1" y="967.2" textLength="7.3" lengthAdjust="spacingAndGlyphs" font-family="Liberation Sans" font-size="6" font-weight="bold" font-style="normal" fill="#333" >Ф<tspan font-size="70%" dy="1.5">н</tspan></text>
<text x="588.5" y="967.2" textLength="7.8" lengthAdjust="spacingAndGlyphs" font-family="Liberation Sans" font-size="6" font-weight="bold" font-style="normal" fill="#333" >Н<tspan font-size="70%" dy="-2">+</tspan></text>
<path d="M578.7,958.9 Q579,953.7 583,953.5" stroke="#3a3a3a" stroke-width="1" fill="none" />
<path d="M604.4,998.5 L604.4,965 Q598.9,960 598.9,952 L598.9,946 Q598.9,940.8 604,940.8 L621.3,940.8 L621.3,998.5 Z" fill="#fff" stroke="#333" stroke-width="1"/>
<path d="M626.4,998.5 L626.4,940.8 L643,940.8 Q648.8,940.8 648.8,947 L648.8,952 Q648.8,960 643.6,965 L643.6,998.5 Z" fill="#fff" stroke="#333" stroke-width="1"/>
<path d="M577.9,945.6 Q579,952.8 586,952.8 L657,952.8" stroke="#e01426" stroke-width="4.8" fill="none" />
<path d="M656,946.2 L668,952.8 L656,959.4 Z" fill="#e01426"/>
<path d="M668.00,952.80 L664.00,955.40 L665.20,952.80 L664.00,950.20 Z" fill="#3a0a0a"/>
<path d="M596.00,952.80 L592.50,955.00 L593.55,952.80 L592.50,950.60 Z" fill="#3a0a0a"/>
<path d="M623.8,1002 L623.8,934" stroke="#333" stroke-width="1" stroke-dasharray="1.2,1.6"/>
<path d="M623.80,932.20 L626.00,935.70 L623.80,934.65 L621.60,935.70 Z" fill="#3a3a3a"/>
<text x="619.9" y="926.7" textLength="10.8" lengthAdjust="spacingAndGlyphs" font-family="Liberation Sans" font-size="6" font-weight="normal" font-style="normal" fill="#666" >3Н<tspan font-size="70%" dy="-2">+</tspan></text>
<text x="620.0" y="1003.0" textLength="9.5" lengthAdjust="spacingAndGlyphs" font-family="Liberation Sans" font-size="5.5" font-weight="normal" font-style="normal" fill="#777" >3Н<tspan font-size="70%" dy="-2">+</tspan></text>
<text x="629.0" y="952.0" textLength="11.2" lengthAdjust="spacingAndGlyphs" font-family="Liberation Sans" font-size="12" font-weight="bold" font-style="normal" fill="#1a1a1a" >F<tspan font-size="60%" dy="2">1</tspan></text>
<text x="629.0" y="993.3" textLength="13.8" lengthAdjust="spacingAndGlyphs" font-family="Liberation Sans" font-size="12" font-weight="bold" font-style="normal" fill="#1a1a1a" >F<tspan font-size="75%" dy="2">O</tspan></text>
<text x="668.4" y="958.2" textLength="28.4" lengthAdjust="spacingAndGlyphs" font-family="Liberation Sans" font-size="13.5" font-weight="bold" font-style="normal" fill="#111" >АТФ</text>
</svg>
</body></html>
